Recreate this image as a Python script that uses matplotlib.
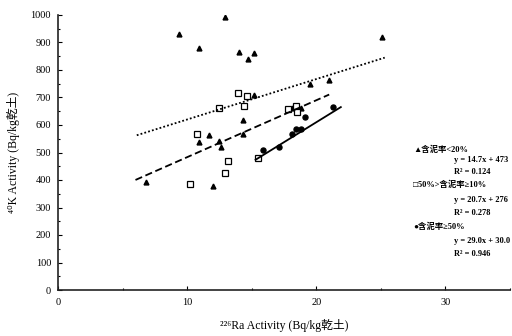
"""Scatter of 40K vs 226Ra activity grouped by mud content, with linear fits."""

import matplotlib

matplotlib.use("Agg")
import matplotlib.pyplot as plt
from matplotlib.ticker import MultipleLocator

plt.rcParams["font.family"] = ["Liberation Serif", "Noto Sans CJK TC", "DejaVu Sans"]

# 含泥率<20%
tri_x = [9.4, 10.9, 12.9, 14.0, 14.7, 15.2, 25.1, 19.5, 21.0, 15.2,
         18.1, 18.8, 14.3, 14.3, 11.7, 10.9, 12.6, 12.5, 12.0, 6.8]
tri_y = [931, 880, 993, 865, 840, 862, 920, 749, 763, 709,
         662, 662, 618, 567, 564, 538, 520, 542, 378, 393]

# 50%>含泥率≥10%
sq_x = [13.9, 14.6, 12.5, 14.4, 17.8, 18.4, 18.5, 10.8, 15.5, 13.2, 12.9, 10.2]
sq_y = [716, 705, 661, 669, 658, 669, 647, 567, 480, 469, 425, 385]

# 含泥率≥50%
circ_x = [15.9, 17.1, 18.1, 18.4, 18.8, 19.1, 21.3]
circ_y = [509, 520, 567, 585, 585, 629, 665]

# fitted lines: slope, intercept, x range as drawn
fits = {
    "tri": (14.7, 473.0, 6.1, 25.3),
    "sq": (20.7, 276.0, 6.0, 21.0),
    "circ": (29.0, 30.0, 15.3, 21.9),
}

legend_rows = [
    ("▲含泥率<20%", "y = 14.7x + 473", "R² = 0.124"),
    ("□50%>含泥率≥10%", "y = 20.7x + 276", "R² = 0.278"),
    ("●含泥率≥50%", "y = 29.0x + 30.0", "R² = 0.946"),
]

W, H = 512, 336
fig = plt.figure(figsize=(W / 100, H / 100), dpi=100)
ax = fig.add_axes([58 / W, 46 / H, 452 / W, 275 / H])

ax.plot(tri_x, tri_y, "^", color="black", markersize=3.5, linestyle="none")
ax.plot(sq_x, sq_y, "s", markerfacecolor="white", markeredgecolor="black",
        markeredgewidth=0.9, markersize=4, linestyle="none")
ax.plot(circ_x, circ_y, "o", color="black", markersize=3.6, linestyle="none")

styles = {"tri": (0, (1, 1.2)), "sq": (0, (4, 2)), "circ": "-"}
for key, (m, b, x0, x1) in fits.items():
    ax.plot([x0, x1], [m * x0 + b, m * x1 + b], color="black",
            linestyle=styles[key], linewidth=1.3)

ax.set_xlim(0, 35)
ax.set_ylim(0, 1000)
ax.xaxis.set_major_locator(MultipleLocator(10))
ax.xaxis.set_minor_locator(MultipleLocator(5))
ax.yaxis.set_major_locator(MultipleLocator(100))
ax.yaxis.set_minor_locator(MultipleLocator(50))
ax.tick_params(which="both", direction="in", labelsize=7.5, width=0.8)
ax.tick_params(which="major", length=3)
ax.tick_params(which="minor", length=1.5)
ax.tick_params(axis="x", pad=6)
ax.tick_params(axis="y", pad=5)
for side in ("top", "right"):
    ax.spines[side].set_visible(False)
for side in ("left", "bottom"):
    ax.spines[side].set_linewidth(1.2)
    ax.spines[side].set_color("#222222")

ax.set_xlabel("²²⁶Ra Activity (Bq/kg乾土)", fontsize=8.5)
ax.set_ylabel("⁴⁰K Activity (Bq/kg乾土)", fontsize=8.5)
ax.xaxis.set_label_coords(0.5, -0.105)
ax.yaxis.set_label_coords(-0.085, 0.5)

# legend block drawn as text on the right side: (header, equation, r2) pixel rows
row_y = [(150, 160, 172), (185, 200, 213), (227, 241, 254)]
for (head, eq, r2), (yh, ye, yr) in zip(legend_rows, row_y):
    fig.text(413 / W, 1 - yh / H, head, fontsize=6, va="center", fontweight="bold")
    fig.text(454 / W, 1 - ye / H, eq, fontsize=6, va="center", fontweight="bold")
    fig.text(454 / W, 1 - yr / H, r2, fontsize=6, va="center", fontweight="bold")

fig.savefig("out.png", dpi=100)
